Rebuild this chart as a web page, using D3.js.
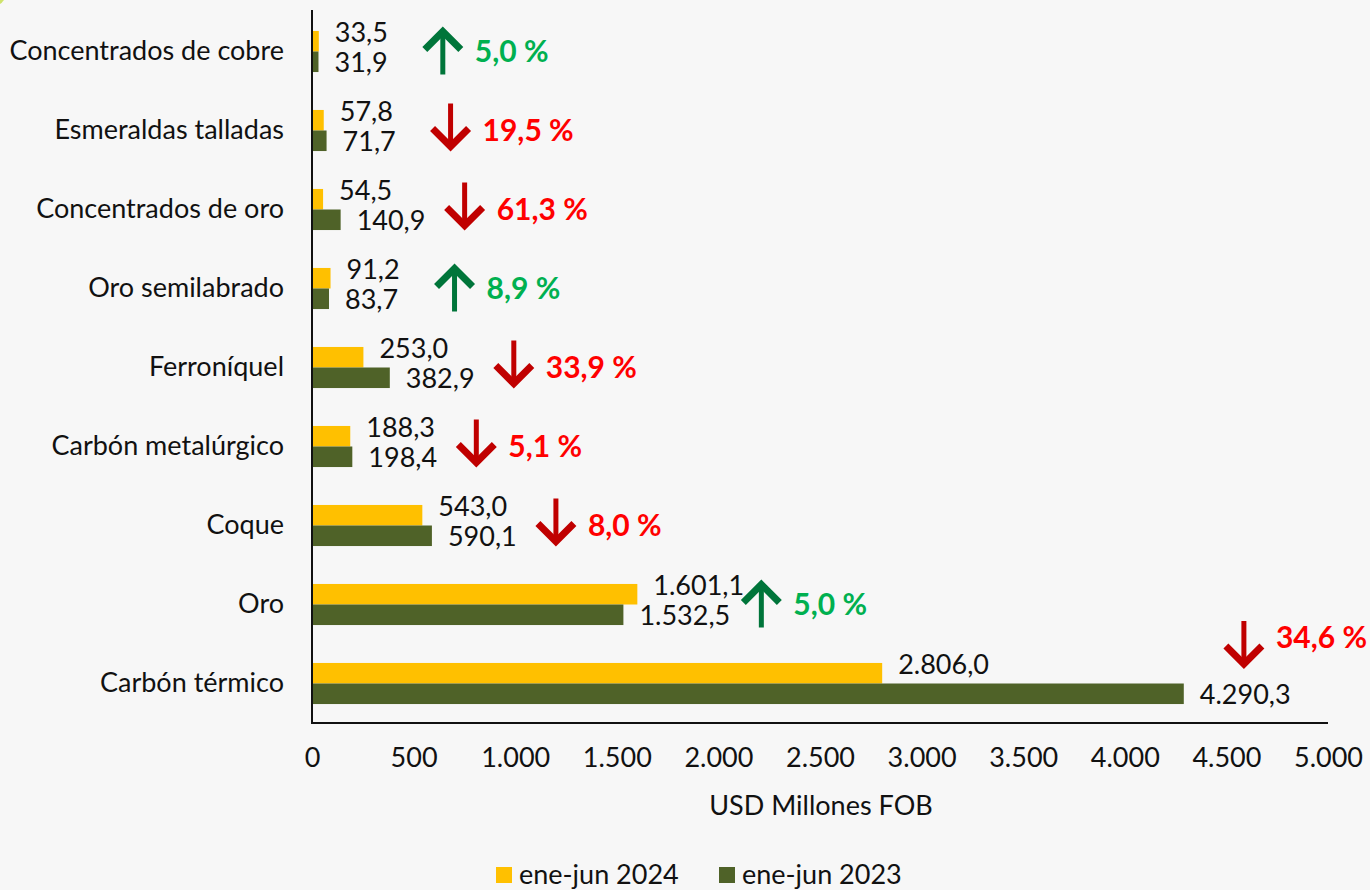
<!DOCTYPE html>
<html>
<head>
<meta charset="utf-8">
<script src="https://cdn.jsdelivr.net/npm/d3@7"></script>
<style>
  html, body { margin: 0; padding: 0; background: #f7f7f7; }
  svg { display: block; }
</style>
</head>
<body>
<svg id="chart" width="1370" height="890"></svg>
<script>
// ---- data ----
const categories = ["Concentrados de cobre", "Esmeraldas talladas", "Concentrados de oro", "Oro semilabrado",
  "Ferroníquel", "Carbón metalúrgico", "Coque", "Oro", "Carbón térmico"];
const values2024 = [33.5, 57.8, 54.5, 91.2, 253.0, 188.3, 543.0, 1601.1, 2806.0];
const values2023 = [31.9, 71.7, 140.9, 83.7, 382.9, 198.4, 590.1, 1532.5, 4290.3];
const changePct = [5.0, -19.5, -61.3, 8.9, -33.9, -5.1, -8.0, 5.0, -34.6];
const xTicks = [0, 500, 1000, 1500, 2000, 2500, 3000, 3500, 4000, 4500, 5000];
const seriesNames = ["ene-jun 2024", "ene-jun 2023"];
const xTitle = "USD Millones FOB";

// ---- layout ----
const W = 1370, H = 890;
const m = { left: 312, right: 1328, top: 12, bottom: 723 };
const FONT = "Lato, 'Open Sans', sans-serif";
const colors = ["#FFC000", "#4F6228"];
const svg = d3.select("#chart").style("font-family", FONT);

svg.append("rect").attr("width", W).attr("height", H).attr("fill", "#f7f7f7");
// small decorative corner mark
svg.append("circle").attr("cx", -12).attr("cy", -12).attr("r", 20).attr("fill", "#cfe36c");

const fmt = v => {
  const s = v.toFixed(1).split(".");
  const int = s[0].replace(/\B(?=(\d{3})+(?!\d))/g, ".");
  return int + "," + s[1];
};
const fmtTick = v => String(v).replace(/\B(?=(\d{3})+(?!\d))/g, ".");

const x = d3.scaleLinear().domain([0, 5000]).range([m.left, m.right]);
const y = d3.scaleBand().domain(categories).range([m.top, m.bottom]).paddingInner(0.48).paddingOuter(0.24);
const y1 = d3.scaleBand().domain([0, 1]).range([0, y.bandwidth()]);

// bars
const g = svg.append("g");
categories.forEach((c, i) => {
  [values2024[i], values2023[i]].forEach((v, s) => {
    g.append("rect")
      .attr("x", x(0)).attr("y", y(c) + y1(s))
      .attr("width", x(v) - x(0)).attr("height", y1.bandwidth())
      .attr("fill", colors[s]);
    g.append("text")
      .attr("x", x(v) + 16)
      .attr("y", y(c) + y1(s) + y1.bandwidth() / 2 + (s === 0 ? -10 : 0))
      .attr("dominant-baseline", "central")
      .attr("font-size", 27).attr("fill", "#111")
      .text(fmt(v));
  });
});

// axes
const xAxis = d3.axisBottom(x).tickValues(xTicks).tickFormat(fmtTick).tickSize(0).tickPadding(25);
const ax = svg.append("g").attr("transform", `translate(0,${m.bottom})`).call(xAxis);
ax.select(".domain").remove();
ax.selectAll("text").attr("font-size", 27).attr("fill", "#111").attr("font-family", FONT);
svg.append("line").attr("x1", m.left).attr("x2", m.right).attr("y1", m.bottom).attr("y2", m.bottom)
  .attr("stroke", "#111").attr("stroke-width", 2);

const yAxis = d3.axisLeft(y).tickSize(0).tickPadding(28);
const ay = svg.append("g").attr("transform", `translate(${m.left},0)`).call(yAxis);
ay.select(".domain").remove();
ay.selectAll("text").attr("font-size", 27).attr("fill", "#111").attr("font-family", FONT);
svg.append("line").attr("x1", m.left).attr("x2", m.left).attr("y1", 10).attr("y2", m.bottom + 1)
  .attr("stroke", "#111").attr("stroke-width", 2);

svg.append("text").attr("x", (m.left + m.right) / 2 + 1).attr("y", 804)
  .attr("text-anchor", "middle").attr("dominant-baseline", "central")
  .attr("font-size", 27).attr("fill", "#111").text(xTitle);

// change arrows + percentages
const arrowGap = 124, textGap = 32;
categories.forEach((c, i) => {
  const pct = changePct[i];
  const up = pct > 0;
  const label = fmt(Math.abs(pct)) + " %";
  const bandC = y(c) + y.bandwidth() / 2;
  let ax0 = x(Math.max(values2024[i], values2023[i])) + arrowGap;
  let cy = bandC - 2, ty = bandC - 2;
  const t = svg.append("text")
    .attr("font-size", 30).attr("font-weight", 700)
    .attr("fill", up ? "#00B050" : "#FF0000")
    .attr("dominant-baseline", "central")
    .text(label);
  const tw = t.node().getComputedTextLength();
  if (ax0 + textGap + tw > W - 2) {
    // not enough room: place above the bars, flush with the right edge
    ax0 = W - 3 - tw - textGap;
    cy = y(c) - y.paddingInner() * y.step() / 2 + 2;
    ty = cy - 10;
  }
  t.attr("x", ax0 + textGap).attr("y", ty);
  const col = up ? "#00753A" : "#C00000";
  const a = svg.append("g").attr("transform", `translate(${ax0},${cy})${up ? " rotate(180)" : ""}`);
  a.append("line").attr("x1", 0).attr("x2", 0).attr("y1", -25).attr("y2", 18)
    .attr("stroke", col).attr("stroke-width", 5);
  a.append("path").attr("d", "M-18,0 L0,18 L18,0").attr("fill", "none")
    .attr("stroke", col).attr("stroke-width", 7).attr("stroke-linejoin", "miter");
});

// legend
const leg = svg.append("g");
const legX = [496, 719];
seriesNames.forEach((n, s) => {
  leg.append("rect").attr("x", legX[s]).attr("y", 867).attr("width", 16).attr("height", 16).attr("fill", colors[s]);
  leg.append("text").attr("x", legX[s] + 23).attr("y", 873).attr("dominant-baseline", "central")
    .attr("font-size", 27).attr("fill", "#111").text(n);
});
</script>
</body>
</html>
